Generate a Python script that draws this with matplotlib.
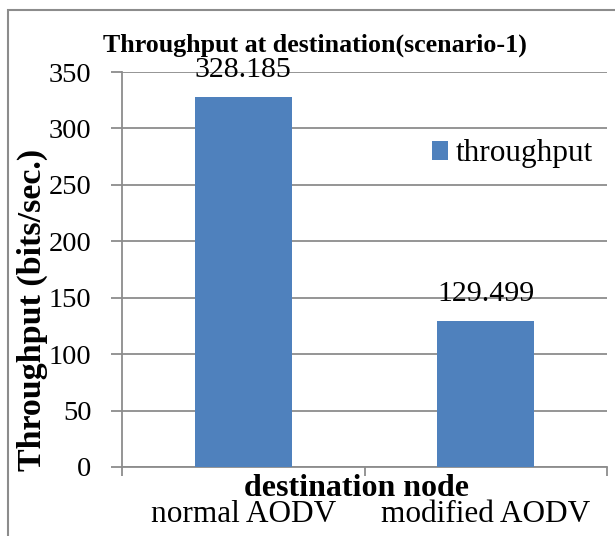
import matplotlib
matplotlib.use("Agg")
import matplotlib.pyplot as plt
from matplotlib.patches import Rectangle

# data
categories = ["normal AODV", "modified AODV"]
throughput = [328.185, 129.499]
y_ticks = [0, 50, 100, 150, 200, 250, 300, 350]

plt.rcParams['font.family'] = ['Liberation Serif', 'DejaVu Serif']

W, H = 615, 536
fig = plt.figure(figsize=(W / 100, H / 100), dpi=100)

# outer chart border (gray, runs off right and bottom)
fig.patches.append(Rectangle((8 / W, -0.05), 1.2, 1 - 10 / H + 0.05,
                             transform=fig.transFigure, fill=False,
                             edgecolor='#8c8c8c', linewidth=1.5))

ax = fig.add_axes([122 / W, 1 - 467 / H, (607 - 122) / W, (467 - 72) / H])

grid_col = '#8c8c8c'
x = list(range(len(categories)))
bars = ax.bar(x, throughput, width=0.40, color='#4F81BD', label='throughput', zorder=3)

ax.set_xlim(-0.5, 1.5)
ax.set_ylim(0, 350)
ax.set_yticks(y_ticks)
ax.set_yticklabels([str(v) for v in y_ticks], fontsize=20.5)
ax.yaxis.grid(True, color=grid_col, linewidth=1.3, zorder=0)
ax.set_axisbelow(True)

ax.set_xticks(x)
ax.set_xticklabels(categories, fontsize=22.5)
ax.set_xticks([-0.5, 0.5, 1.5], minor=True)
ax.tick_params(axis='x', which='major', length=0, pad=24)
ax.tick_params(axis='x', which='minor', length=6.5, width=1.3, color=grid_col)
ax.tick_params(axis='y', length=8, width=1.3, color=grid_col, pad=14)

for s in ['top', 'right']:
    ax.spines[s].set_visible(False)
for s in ['left', 'bottom']:
    ax.spines[s].set_color(grid_col)
    ax.spines[s].set_linewidth(1.3)

# data labels
for xi, v in zip(x, throughput):
    ax.annotate(f"{v:g}", (xi, v), xytext=(0, 14), textcoords='offset points',
                ha='center', va='baseline', fontsize=21.5)

# axis titles
ax.text(0.4825, -0.074, "destination node", transform=ax.transAxes,
        ha='center', va='baseline', fontsize=23, fontweight='bold')
ax.text((32 - 122) / 485, (467 - 310) / 395, "Throughput (bits/sec.)",
        transform=ax.transAxes, rotation=90, ha='center', va='center',
        fontsize=24.5, fontweight='bold')

fig.text(315 / W, 1 - 52 / H, "Throughput at destination(scenario-1)",
         ha='center', va='baseline', fontsize=18.7, fontweight='bold')

ax.legend(loc='center left', bbox_to_anchor=(432 / W, 1 - 154 / H),
          bbox_transform=fig.transFigure, frameon=False, fontsize=22.5,
          handlelength=0.52, handleheight=0.52, handletextpad=0.25,
          borderpad=0, borderaxespad=0)

fig.savefig("out.png", dpi=100)
